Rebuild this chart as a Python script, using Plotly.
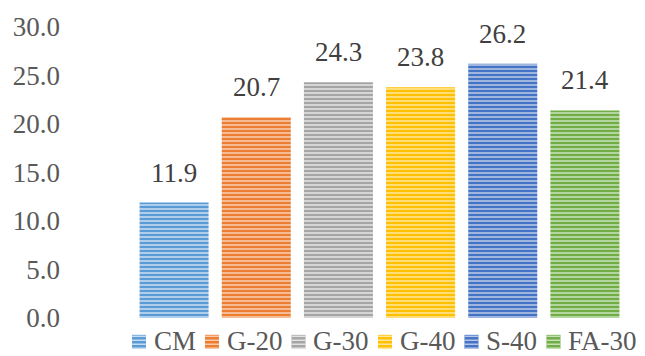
import plotly.graph_objects as go

series = ["CM", "G-20", "G-30", "G-40", "S-40", "FA-30"]
values = [11.9, 20.7, 24.3, 23.8, 26.2, 21.4]
colors = ["#5B9BD5", "#ED7D31", "#A5A5A5", "#FFC000", "#4472C4", "#70AD47"]
stripes = ["#C5DCF1", "#F8CBAD", "#E2E2E2", "#FFE699", "#B4C7E7", "#C5E0B4"]
yticks = [0, 5, 10, 15, 20, 25, 30]

FONT = "Liberation Serif"
FS = 27
W, H = 645, 356
ML, MR, MT, MB = 133, 19, 24, 38
PW, PH = W - ML - MR, H - MT - MB

fig = go.Figure()
for name, v, c, s in zip(series, values, colors, stripes):
    fig.add_trace(go.Bar(
        x=[name], y=[v], name=name,
        marker=dict(color=c, line=dict(width=0),
                    pattern=dict(shape="-", bgcolor=c, fgcolor=s,
                                 size=4, solidity=0.4, fillmode="replace")),
        showlegend=False,
    ))

annots = []
for name, v in zip(series, values):
    annots.append(dict(x=name, y=v, xref="x", yref="y", text=f"{v:.1f}",
                       showarrow=False, xanchor="center", yanchor="bottom", yshift=13,
                       font=dict(family=FONT, size=FS, color="#404040")))

# manual compact legend (Excel style)
def px2x(px):
    return (px - ML) / PW

def py2y(py):
    return (H - MB - py) / PH

adv = {"C": .667, "M": .889, "G": .722, "-": .333, "S": .556, "F": .556, "A": .722}
def text_w(t):
    return sum(adv.get(ch, .5) for ch in t) * FS

shapes = []
cx = 132.0
cy = 342.0
sq = 14
for name, c, s in zip(series, colors, stripes):
    shapes.append(dict(type="rect", xref="paper", yref="paper",
                       x0=px2x(cx), x1=px2x(cx + sq), y0=py2y(cy + sq / 2), y1=py2y(cy - sq / 2),
                       fillcolor=c, line=dict(width=0), layer="above"))
    yy = cy - sq / 2 + 1.5
    while yy < cy + sq / 2:
        shapes.append(dict(type="line", xref="paper", yref="paper",
                           x0=px2x(cx), x1=px2x(cx + sq), y0=py2y(yy), y1=py2y(yy),
                           line=dict(color=s, width=1.5), layer="above"))
        yy += 4
    annots.append(dict(text=name, xref="paper", yref="paper", x=px2x(cx + sq + 6), y=py2y(cy - 1),
                       xanchor="left", yanchor="middle", showarrow=False,
                       font=dict(family=FONT, size=FS, color="#595959")))
    cx += sq + 6 + text_w(name) + 11

fig.update_layout(
    width=W, height=H,
    margin=dict(l=ML, r=MR, t=MT, b=MB),
    paper_bgcolor="white", plot_bgcolor="white",
    barmode="overlay", bargap=0.16,
    font=dict(family=FONT, size=FS, color="#595959"),
    showlegend=False,
    shapes=shapes, annotations=annots,
    xaxis=dict(showticklabels=False, showgrid=False, showline=False, zeroline=False, ticks="",
               categoryorder="array", categoryarray=series),
    yaxis=dict(range=[0, 30], tickvals=yticks, ticktext=[f"{t:.1f}" for t in yticks],
               showgrid=False, showline=False, zeroline=False,
               ticklabelstandoff=72,
               tickfont=dict(family=FONT, size=FS, color="#595959")),
)

fig.write_html("out.html")
